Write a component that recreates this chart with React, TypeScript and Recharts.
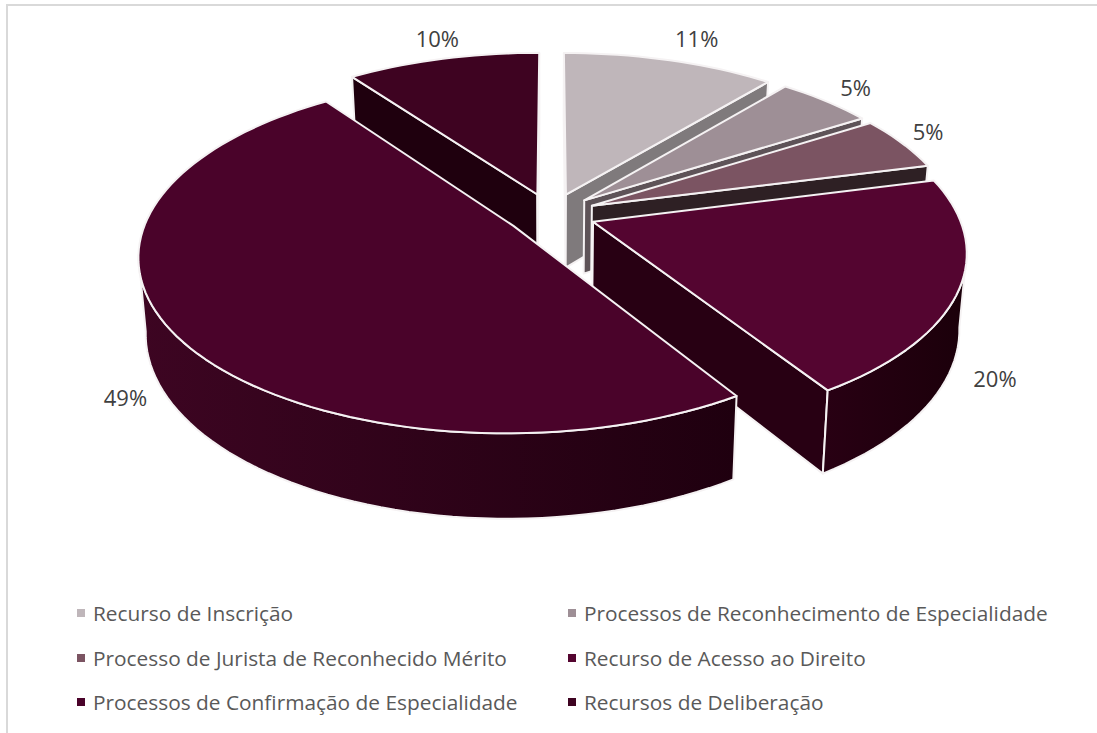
import * as React from "react";
import { PieChart, Pie, Legend } from "recharts";

const WIDTH = 1097;
const HEIGHT = 733;

const categories = [
  "Recurso de Inscrição",
  "Processos de Reconhecimento de Especialidade",
  "Processo de Jurista de Reconhecido Mérito",
  "Recurso de Acesso ao Direito",
  "Processos de Confirmação de Especialidade",
  "Recursos de Deliberação",
];
const values = [11, 5, 5, 20, 49, 10];

const topColors = ["#bfb6ba", "#9e8f96", "#7b5462", "#540530", "#4a032a", "#3e0321"];
const wallColors = ["#7f7a7c", "#5e5358", "#2e2024", "#280013", "#3d0522", "#1f000e"];
const wallShades = ["#7f7a7c", "#5e5358", "#2e2024", "#1b000a", "#1f000f", "#1f000e"];

// px shift of each data label away from its default spot outside the rim
const labelNudges = [
  [11, -2],
  [-9, 2],
  [-26, -2],
  [-35, 76],
  [20, 42],
  [9, 0],
];

// the last slice goes first so the big front slice paints over its wall
const rows = categories.map((name, i) => ({
  name,
  value: values[i],
  top: topColors[i],
  wall: wallColors[i],
  shade: wallShades[i],
  nudge: labelNudges[i],
}));
const drawRows = [rows[5], ...rows.slice(0, 5)];

// fake 3D camera
const TILT = 0.466;
const PERSPECTIVE = 0.16;
const EXPLODE = 0.123;
const THICKNESS = 74;
const FLOOR_SHRINK = 0.018;
const RAD = Math.PI / 180;
const EDGE = "#f5f2f3";

type Pt = [number, number];

function project(cx: number, cy: number, r: number, U: number, V: number, lower = false): Pt {
  const w = 1 - PERSPECTIVE * V;
  const s = lower ? 1 + FLOOR_SHRINK : 1;
  return [
    cx + (r * U) / (w * s),
    cy + ((r * TILT * V) / s + (lower ? THICKNESS : 0)) / w,
  ];
}

const toPath = (pts: Pt[]) =>
  "M" + pts.map((p) => `${p[0].toFixed(2)},${p[1].toFixed(2)}`).join("L") + "Z";

function Slice3D(props: any) {
  const { cx, cy, outerRadius: r, startAngle, endAngle, payload } = props;
  const mid = ((startAngle + endAngle) / 2) * RAD;
  const shiftU = EXPLODE * Math.cos(mid);
  const shiftV = -EXPLODE * Math.sin(mid);

  const steps = Math.ceil(Math.abs(endAngle - startAngle) / 2);
  const rimUV: Pt[] = [];
  for (let i = 0; i <= steps; i++) {
    const a = (startAngle + ((endAngle - startAngle) * i) / steps) * RAD;
    rimUV.push([Math.cos(a) + shiftU, -Math.sin(a) + shiftV]);
  }
  const up = (p: Pt) => project(cx, cy, r, p[0], p[1]);
  const down = (p: Pt) => project(cx, cy, r, p[0], p[1], true);
  const apexUV: Pt = [shiftU, shiftV];
  const apex = up(apexUV);
  const inside = up([Math.cos(mid) * 0.6 + shiftU, -Math.sin(mid) * 0.6 + shiftV]);

  // a cut face shows only when the top face lies above its upper edge
  const faces = (edge: Pt) => {
    const p = up(edge);
    const ex = p[0] - apex[0];
    const ey = p[1] - apex[1];
    const cross = ex * (inside[1] - apex[1]) - ey * (inside[0] - apex[0]);
    return cross * ex < 0;
  };
  const cutWalls = [rimUV[0], rimUV[rimUV.length - 1]]
    .filter(faces)
    .map((e) => toPath([up(apexUV), up(e), down(e), down(apexUV)]));

  const front: Pt[] = [];
  rimUV.forEach((p, i) => {
    const next = rimUV[i + 1];
    const prev = rimUV[i - 1];
    const goesLeft = (a: Pt, b: Pt) => up(b)[0] < up(a)[0];
    if ((next && goesLeft(p, next)) || (prev && goesLeft(prev, p))) front.push(p);
  });
  const gradId = `wall-${payload.value}-${Math.round(startAngle)}`;
  const xs = front.map((p) => up(p)[0]);

  return (
    <g>
      {cutWalls.map((d, i) => (
        <path key={i} d={d} fill={payload.wall} stroke={EDGE} strokeWidth={2} strokeLinejoin="round" />
      ))}
      {front.length > 1 && (
        <>
          <defs>
            <linearGradient id={gradId} gradientUnits="userSpaceOnUse" x1={Math.min(...xs)} x2={Math.max(...xs)} y1={0} y2={0}>
              <stop offset="0%" stopColor={payload.wall} />
              <stop offset="100%" stopColor={payload.shade} />
            </linearGradient>
          </defs>
          <path
            d={toPath([...front.map(up), ...front.slice().reverse().map(down)])}
            fill={`url(#${gradId})`}
            stroke={EDGE}
            strokeWidth={2}
            strokeLinejoin="round"
          />
        </>
      )}
      <path
        d={toPath([apex, ...rimUV.map(up)])}
        fill={payload.top}
        stroke={EDGE}
        strokeWidth={2}
        strokeLinejoin="round"
      />
    </g>
  );
}

function renderLabel(props: any) {
  const { cx, cy, outerRadius: r, midAngle, payload } = props;
  const a = midAngle * RAD;
  const reach = 1.18 + EXPLODE;
  const [x, y] = project(cx, cy, r, Math.cos(a) * reach, -Math.sin(a) * reach);
  return (
    <text
      x={x + payload.nudge[0]}
      y={y + payload.nudge[1]}
      fill="#404040"
      fontSize={22}
      fontFamily="'Open Sans', sans-serif"
      textAnchor="middle"
      dominantBaseline="central"
    >
      {`${payload.value}%`}
    </text>
  );
}

function LegendGrid() {
  return (
    <div style={{ position: "relative", width: WIDTH, height: HEIGHT }}>
      {rows.map((row, i) => {
        const left = i % 2 === 0 ? 77 : 568;
        const top = [613, 658, 702][Math.floor(i / 2)];
        return (
          <div
            key={row.name}
            style={{
              position: "absolute",
              left,
              top: top - 15,
              height: 30,
              display: "flex",
              alignItems: "center",
              whiteSpace: "nowrap",
            }}
          >
            <span style={{ width: 8, height: 8, background: row.top, marginRight: 8 }} />
            <span style={{ fontFamily: "'Open Sans', sans-serif", fontSize: 20.85, color: "#595959" }}>{row.name}</span>
          </div>
        );
      })}
    </div>
  );
}

export default function App() {
  return (
    <div style={{ position: "absolute", left: 0, top: 0, width: WIDTH, height: HEIGHT, background: "#fff", overflow: "hidden" }}>
      <div
        style={{
          position: "absolute",
          left: 6,
          top: 4,
          width: WIDTH,
          height: HEIGHT,
          borderLeft: "2px solid #d9d9d9",
          borderTop: "2px solid #d9d9d9",
        }}
      />
      <PieChart width={WIDTH} height={HEIGHT} margin={{ top: 0, right: 0, bottom: 0, left: 0 }}>
        <Pie
          data={drawRows}
          dataKey="value"
          nameKey="name"
          cx={551}
          cy={214}
          innerRadius={0}
          outerRadius={365}
          startAngle={126}
          endAngle={-234}
          stroke="none"
          shape={Slice3D}
          label={renderLabel}
          labelLine={false}
          isAnimationActive={false}
        />
        <Legend content={LegendGrid} wrapperStyle={{ left: 0, top: 0, bottom: "auto", width: WIDTH, height: HEIGHT }} />
      </PieChart>
    </div>
  );
}
